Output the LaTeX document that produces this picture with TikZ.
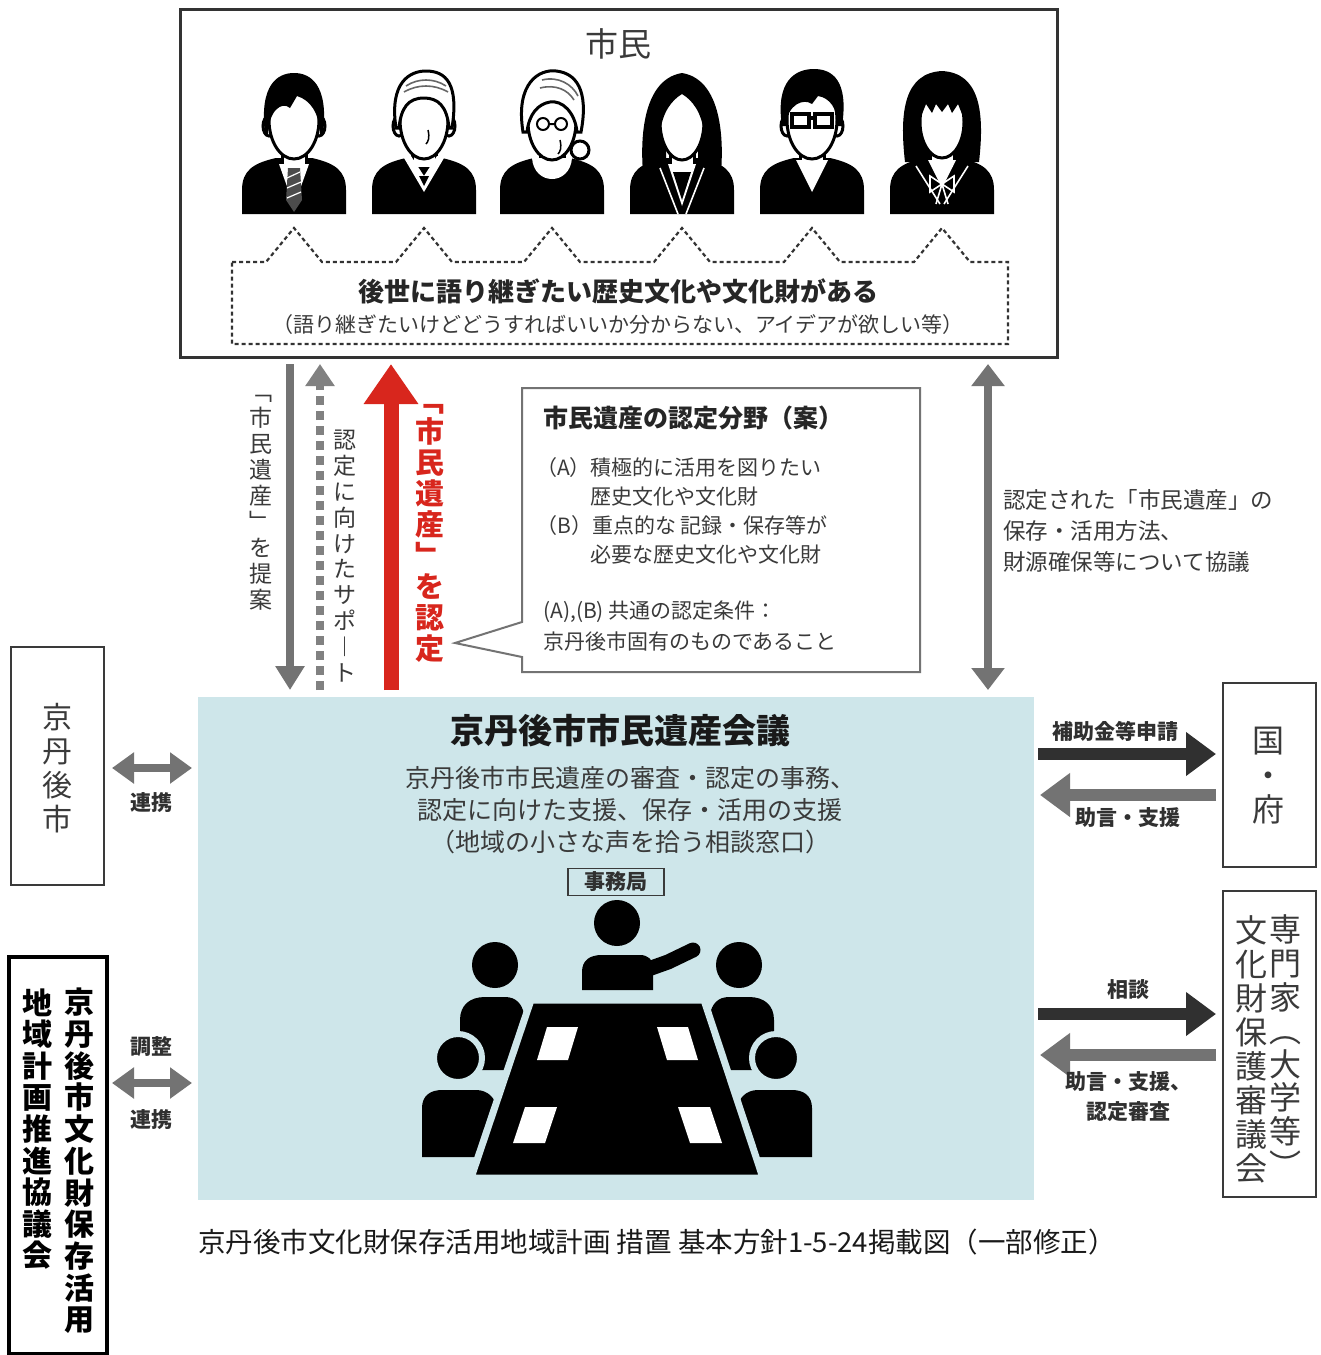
\documentclass[tikz,border=0pt]{standalone}
\usepackage{fontspec}
\setmainfont{Noto Sans CJK JP}
\usetikzlibrary{arrows.meta}
\definecolor{txtgray}{HTML}{3A3A3A}
\definecolor{arrgray}{HTML}{737373}
\definecolor{arrdark}{HTML}{303030}
\definecolor{heritred}{HTML}{D8261D}
\definecolor{councilblue}{HTML}{CEE6EA}
\newcommand{\fs}[2]{\fontsize{#1pt}{#2pt}\selectfont}
\newcommand{\torso}{\fill (-52,214) -- (-52,190) .. controls (-52,170) and (-40,163) .. (-18,158) -- (18,158) .. controls (40,163) and (52,170) .. (52,190) -- (52,214) -- cycle;}
\newcommand{\neckpart}{\filldraw[skin] (-12,140) -- (-12,168) -- (12,168) -- (12,140);}
\newcommand{\earpair}{\filldraw[skin] (-25,126) ellipse [x radius=6, y radius=10];
  \filldraw[skin] (25,126) ellipse [x radius=6, y radius=10];}
\begin{document}
\begin{tikzpicture}[x=1pt,y=-1pt,
  skin/.style={fill=white, draw=black, line width=3pt},
  frame/.style={draw=#1, line width=2.2pt, fill=white, anchor=north west, inner sep=0pt},
  frame/.default=txtgray,
  vstack/.style={align=center, inner sep=0pt},
  gshaft/.style={draw=arrgray, line width=8pt},
  fatgray/.style={draw=arrgray, line width=12pt, -{Triangle[length=30pt, width=42pt]}},
  fatdark/.style={draw=arrdark, line width=12pt, -{Triangle[length=30pt, width=42pt]}},
  lbl/.style={font=\fs{21}{30}\bfseries, text=arrdark, align=center, inner sep=0pt},
  bodytxt/.style={font=\fs{21}{29}, text=txtgray, anchor=west, inner sep=0pt},
]
\useasboundingbox (0,0) rectangle (1321,1355);
\fill[white] (0,0) rectangle (1321,1355);

% ---------- citizens panel ----------
\node[frame=black!80, line width=2.6pt, minimum width=877pt, minimum height=348pt] (citizens) at (179,8) {};
\node[font=\fs{33}{36}, text=txtgray] (citTitle) at (618,44) {市民};

% person 1: suit and striped tie
\begin{scope}[shift={(294,0)}]
  \torso
  \neckpart
  \fill[white] (-15,164) -- (15,164) -- (0,206) -- cycle;
  \fill[black!70] (-6,168) -- (6,168) -- (8,200) -- (0,212) -- (-8,200) -- cycle;
  \draw[white, line width=1.2pt] (-7,178) -- (6,172) (-7,188) -- (7,182) (-7,198) -- (7,192);
  \earpair
  \filldraw[skin] (0,120) ellipse [x radius=25, y radius=39];
  \fill (-29,134) .. controls (-35,84) and (-16,73) .. (0,73) .. controls (16,73) and (35,84) .. (29,134) -- (26,134) .. controls (25,112) and (16,100) .. (3,96) -- (-4,108) .. controls (-12,101) and (-25,110) .. (-26,134) -- cycle;
\end{scope}

% person 2: grey-haired man in a sweater
\begin{scope}[shift={(424,0)}]
  \torso
  \neckpart
  \fill[white] (-20,158) -- (0,192) -- (20,158) -- (13,156) -- (0,176) -- (-13,156) -- cycle;
  \fill (-5,176) -- (5,176) -- (0,186) -- cycle;
  \earpair
  \filldraw[skin] (0,120) ellipse [x radius=24, y radius=39];
  \filldraw[skin] (-28,128) .. controls (-35,82) and (-14,71) .. (2,71) .. controls (22,71) and (35,84) .. (28,128) -- (25,128) .. controls (23,106) and (14,98) .. (0,98) .. controls (-16,98) and (-23,108) .. (-25,128) -- cycle;
  \draw[black!60, line width=1.6pt] (-18,86) .. controls (-6,78) and (10,78) .. (22,86)
    (-20,92) .. controls (-6,84) and (10,84) .. (24,92);
  \draw[line width=1.5pt] (4,130) .. controls (6,138) and (4,142) .. (2,144);
\end{scope}

% person 3: older woman with glasses and a bun
\begin{scope}[shift={(552,0)}]
  \torso
  \neckpart
  \fill[white] (-20,158) .. controls (-18,186) and (18,186) .. (20,158) -- cycle;
  \filldraw[skin] (28,150) circle (9);
  \filldraw[skin] (0,122) ellipse [x radius=24, y radius=38];
  \filldraw[skin] (-29,132) .. controls (-37,82) and (-12,69) .. (4,71) .. controls (24,73) and (37,90) .. (29,132) -- (25,132) .. controls (23,112) and (10,100) .. (-2,102) .. controls (-14,104) and (-23,114) .. (-25,132) -- cycle;
  \draw[black!60, line width=1.6pt] (-10,80) .. controls (6,76) and (20,84) .. (26,96)
    (-12,88) .. controls (4,84) and (16,90) .. (22,100);
  \draw[line width=2pt] (-9,124) circle (6) (9,124) circle (6) (-3,124) -- (3,124);
  \draw[line width=1.5pt] (8,140) .. controls (10,148) and (8,152) .. (6,154);
\end{scope}

% person 4: woman with long hair in a jacket
\begin{scope}[shift={(682,0)}]
  \torso
  \fill (-37,190) .. controls (-43,150) and (-43,80) .. (0,73) .. controls (43,80) and (43,150) .. (37,190) -- (16,190) -- (16,140) -- (-16,140) -- (-16,190) -- cycle;
  \neckpart
  \fill[white] (-14,164) -- (14,164) -- (0,206) -- cycle;
  \fill (-9,172) -- (9,172) -- (0,200) -- cycle;
  \draw[white, line width=1.6pt] (-22,168) -- (-4,214) (22,168) -- (4,214);
  \filldraw[skin] (0,122) ellipse [x radius=22, y radius=38];
  \fill (-25,134) .. controls (-29,88) and (-12,79) .. (0,79) .. controls (12,79) and (29,88) .. (25,134) -- (22,134) .. controls (20,112) and (10,100) .. (0,94) .. controls (-10,100) and (-20,112) .. (-22,134) -- cycle;
\end{scope}

% person 5: man with glasses
\begin{scope}[shift={(812,0)}]
  \torso
  \neckpart
  \fill[white] (-16,160) -- (16,160) -- (0,192) -- cycle;
  \earpair
  \filldraw[skin] (0,120) ellipse [x radius=25, y radius=39];
  \fill (-30,126) .. controls (-37,80) and (-16,69) .. (2,69) .. controls (20,69) and (37,80) .. (30,126) -- (26,126) .. controls (25,108) and (18,98) .. (6,96) -- (0,104) .. controls (-8,98) and (-25,104) .. (-26,126) -- cycle;
  \draw[line width=3.5pt] (-20,114) rectangle (-3,127) (3,114) rectangle (20,127) (-3,118) -- (3,118);
\end{scope}

% person 6: girl with a bob and a bow
\begin{scope}[shift={(942,0)}]
  \torso
  \fill (-37,162) .. controls (-43,110) and (-37,73) .. (0,71) .. controls (37,73) and (43,110) .. (37,162) -- cycle;
  \neckpart
  \fill[white] (-14,160) -- (14,160) -- (0,188) -- cycle;
  \draw[white, line width=1.6pt] (-26,166) -- (-2,204) (26,166) -- (2,204);
  \draw[white, line width=1.6pt] (0,184) -- (-12,176) -- (-12,192) -- cycle (0,184) -- (12,176) -- (12,192) -- cycle (0,184) -- (-6,204) (0,184) -- (6,204);
  \filldraw[skin] (0,122) ellipse [x radius=22, y radius=36];
  \fill (-30,112) .. controls (-30,84) and (-14,76) .. (0,76) .. controls (14,76) and (30,84) .. (30,112) -- (25,112) -- (25,104) -- (-25,104) -- (-25,112) -- cycle;
  \fill (-25,104) -- (-20,114) -- (-16,104) -- (-10,113) -- (-6,104) -- (0,112) -- (6,104) -- (10,113) -- (16,104) -- (20,114) -- (25,104) -- cycle;
\end{scope}

% speech outline under the figures
\draw[black!80, line width=2.2pt, dash pattern=on 4pt off 3pt]
  (232,262) -- (266,262) -- (294,228) -- (322,262) -- (396,262) -- (424,228) -- (452,262)
  -- (524,262) -- (552,228) -- (580,262) -- (654,262) -- (682,228) -- (710,262)
  -- (784,262) -- (812,228) -- (840,262) -- (914,262) -- (942,228) -- (970,262)
  -- (1008,262) -- (1008,344) -- (232,344) -- cycle;
\node[font=\fs{26}{30}\bfseries, text=black!85] (wish) at (618,291) {後世に語り継ぎたい歴史文化や文化財がある};
\node[font=\fs{21}{26}, text=txtgray] (wishNote) at (618,325) {（語り継ぎたいけどどうすればいいか分からない、アイデアが欲しい等）};

% ---------- council panel ----------
\node[fill=councilblue, anchor=north west, inner sep=0pt, minimum width=836pt, minimum height=503pt] (council) at (198,697) {};
\node[font=\fs{34}{38}\bfseries, text=black!90] (councilTitle) at (620,731) {京丹後市市民遺産会議};
\node[font=\fs{25}{32}, text=txtgray, align=center, inner sep=0pt] (councilRole) at (630,810)
  {京丹後市市民遺産の審査・認定の事務、\\認定に向けた支援、保存・活用の支援\\（地域の小さな声を拾う相談窓口）};
\node[draw=txtgray, line width=1.5pt, font=\fs{21}{24}\bfseries, text=arrdark, inner sep=2pt, minimum width=96pt, minimum height=27pt] (office) at (616,882) {事務局};

% meeting pictogram
\fill (617,923) circle (23);
\fill (582,990) -- (582,972) .. controls (582,960) and (590,955) .. (602,955) -- (640,955) .. controls (648,955) and (653,960) .. (653,966) -- (653,990) -- cycle;
\draw[line width=15pt, line cap=round] (640,972) -- (668,962) -- (693,950);
\begin{scope}
  \fill (495,965) circle (23);
  \fill (460,1070) -- (460,1020) .. controls (460,1005) and (470,997) .. (485,997) -- (505,997) .. controls (516,997) and (522,1004) .. (524,1014) -- (534,1070) -- cycle;
  \filldraw[draw=councilblue, line width=6pt, fill=black] (458,1058) circle (24);
  \fill (422,1157) -- (422,1108) .. controls (422,1096) and (430,1090) .. (442,1090) -- (476,1090) .. controls (488,1090) and (495,1098) .. (497,1108) -- (506,1157) -- cycle;
\end{scope}
\begin{scope}[xshift=1234pt, xscale=-1]
  \fill (495,965) circle (23);
  \fill (460,1070) -- (460,1020) .. controls (460,1005) and (470,997) .. (485,997) -- (505,997) .. controls (516,997) and (522,1004) .. (524,1014) -- (534,1070) -- cycle;
  \filldraw[draw=councilblue, line width=6pt, fill=black] (458,1058) circle (24);
  \fill (422,1157) -- (422,1108) .. controls (422,1096) and (430,1090) .. (442,1090) -- (476,1090) .. controls (488,1090) and (495,1098) .. (497,1108) -- (506,1157) -- cycle;
\end{scope}
\filldraw[fill=black, draw=councilblue, line width=7pt] (531,1000) -- (704,1000) -- (763,1178) -- (471,1178) -- cycle;
\fill[white] (547,1027) -- (578,1027) -- (568,1060) -- (537,1060) -- cycle;
\fill[white] (657,1027) -- (688,1027) -- (698,1060) -- (667,1060) -- cycle;
\fill[white] (525,1107) -- (557,1107) -- (545,1143) -- (513,1143) -- cycle;
\fill[white] (678,1107) -- (710,1107) -- (722,1143) -- (690,1143) -- cycle;

% ---------- arrows between citizens and council ----------
\coordinate (propTop) at (290,364);
\coordinate (propBot) at (290,690);
\coordinate (suppTop) at (320,364);
\coordinate (suppBot) at (320,690);
\coordinate (certTop) at (391,364);
\coordinate (certBot) at (391,690);
\coordinate (talkTop) at (988,364);
\coordinate (talkBot) at (988,690);
\draw[gshaft, -{Triangle[length=24pt, width=28pt]}] (propTop) -- (propBot);
\draw[draw=arrgray!90, line width=8pt, dash pattern=on 9pt off 6pt, -{Triangle[length=22pt, width=28pt]}] (suppBot) -- (suppTop);
\draw[draw=heritred, line width=15pt, -{Triangle[length=40pt, width=52pt]}] (certBot) -- (certTop);
\draw[gshaft, {Triangle[length=22pt, width=32pt]}-{Triangle[length=22pt, width=32pt]}] (talkTop) -- (talkBot);

\node[vstack, font=\fs{23}{26}, text=txtgray] (propTxt) at (261,503) {﹁\\市\\民\\遺\\産\\﹂\\を\\提\\案};
\node[vstack, font=\fs{23}{25.8}, text=txtgray] (suppTxt) at (345,556) {認\\定\\に\\向\\け\\た\\サ\\ポ\\︱\\ト};
\node[vstack, font=\fs{29}{31}\bfseries, text=heritred] (certTxt) at (430,533) {﹁\\市\\民\\遺\\産\\﹂\\を\\認\\定};

% category callout
\draw[draw=black!55, line width=2pt, fill=white] (522,388) -- (920,388) -- (920,672) -- (522,672) -- (522,657) -- (455,643) -- (522,622) -- cycle;
\node[font=\fs{25}{28}\bfseries, text=black!85, anchor=west, inner sep=0pt] (catTitle) at (543,418) {市民遺産の認定分野（案）};
\node[bodytxt] (catA) at (536,468) {（A）積極的に活用を図りたい};
\node[bodytxt] (catA2) at (590,497) {歴史文化や文化財};
\node[bodytxt] (catB) at (536,526) {（B）重点的な 記録・保存等が};
\node[bodytxt] (catB2) at (590,555) {必要な歴史文化や文化財};
\node[bodytxt] (catCond) at (543,612) {(A),(B) 共通の認定条件：};
\node[bodytxt] (catCond2) at (543,641) {京丹後市固有のものであること};

\node[font=\fs{22.5}{31}, text=txtgray, align=left, anchor=west, inner sep=0pt] (talkTxt) at (1003,531)
  {認定された「市民遺産」の\\保存・活用方法、\\財源確保等について協議};

% ---------- left side ----------
\node[frame, minimum width=93pt, minimum height=238pt] (city) at (10,646) {};
\node[vstack, font=\fs{30}{34}, text=txtgray] (cityTxt) at (57,768) {京\\丹\\後\\市};
\node[frame=black, line width=3.5pt, minimum width=98pt, minimum height=397pt] (plan) at (7,955) {};
\node[vstack, font=\fs{30}{31.7}\bfseries, text=black] (planR) at (79,1161) {京\\丹\\後\\市\\文\\化\\財\\保\\存\\活\\用};
\node[vstack, font=\fs{30}{31.6}\bfseries, text=black] (planL) at (37,1129) {地\\域\\計\\画\\推\\進\\協\\議\\会};

\coordinate (cityL) at (112,768);
\coordinate (cityR) at (192,768);
\coordinate (planArrL) at (112,1083);
\coordinate (planArrR) at (192,1083);
\draw[gshaft, {Triangle[length=22pt, width=30pt]}-{Triangle[length=22pt, width=30pt]}] (cityL) -- (cityR);
\draw[gshaft, {Triangle[length=22pt, width=30pt]}-{Triangle[length=22pt, width=30pt]}] (planArrL) -- (planArrR);
\node[lbl] (cityLbl) at (151,803) {連携};
\node[lbl] (planLbl1) at (151,1047) {調整};
\node[lbl] (planLbl2) at (151,1120) {連携};

% ---------- right side ----------
\node[frame, minimum width=93pt, minimum height=184pt] (gov) at (1222,682) {};
\node[vstack, font=\fs{32}{34.5}, text=txtgray] (govTxt) at (1268,776) {国\\・\\府};
\node[frame, minimum width=93pt, minimum height=306pt] (expert) at (1222,890) {};
\node[vstack, font=\fs{32}{33.6}, text=txtgray] (expertR) at (1285,1046) {専\\門\\家\\︵\\大\\学\\等\\︶};
\node[vstack, font=\fs{32}{34}, text=txtgray] (expertL) at (1251,1049) {文\\化\\財\\保\\護\\審\\議\\会};

\coordinate (govInA) at (1038,754);
\coordinate (govInB) at (1216,754);
\coordinate (govOutA) at (1216,795);
\coordinate (govOutB) at (1040,795);
\coordinate (expInA) at (1038,1014);
\coordinate (expInB) at (1216,1014);
\coordinate (expOutA) at (1216,1055);
\coordinate (expOutB) at (1040,1055);
\draw[fatdark] (govInA) -- (govInB);
\draw[fatgray] (govOutA) -- (govOutB);
\draw[fatdark] (expInA) -- (expInB);
\draw[fatgray] (expOutA) -- (expOutB);
\node[lbl] (govLbl1) at (1115,731) {補助金等申請};
\node[lbl] (govLbl2) at (1128,818) {助言・支援};
\node[lbl] (expLbl1) at (1128,990) {相談};
\node[lbl] (expLbl2) at (1128,1097) {助言・支援、\\認定審査};

% ---------- source line ----------
\node[font=\fs{27.5}{30}, text=black!90, inner sep=0pt] (source) at (657,1242) {京丹後市文化財保存活用地域計画 措置 基本方針1-5-24掲載図（一部修正）};
\end{tikzpicture}
\end{document}
